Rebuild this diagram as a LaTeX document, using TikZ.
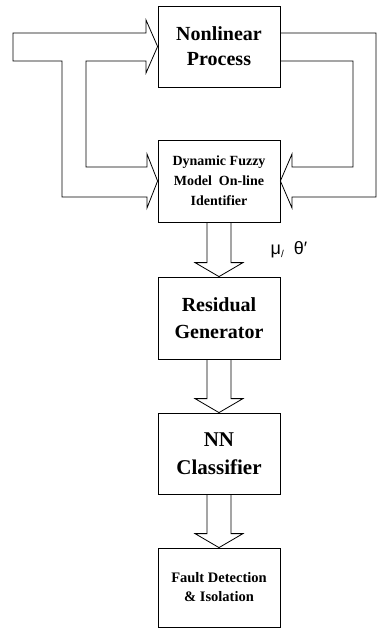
\documentclass[tikz,border=0pt]{standalone}
\usepackage{fontspec}
\setmainfont{Liberation Serif}
\newfontfamily\labelfont{Liberation Sans}
\usetikzlibrary{calc}
\tikzset{
  block/.style={draw, line width=0.8pt, minimum width=122pt, align=center, inner sep=0pt},
  band/.style={draw, line width=0.8pt, line join=miter},
}
\begin{document}
\begin{tikzpicture}[x=1pt,y=-1pt]
      \useasboundingbox (0,0) rectangle (377,629);
      \draw
        (219,46.5) node[block, minimum height=81pt, font=\bfseries\fontsize{20}{25}\selectfont] (proc){Nonlinear\\Process}
        (219,181) node[block, minimum height=82pt, font=\bfseries\fontsize{14}{20}\selectfont] (ident){Dynamic Fuzzy\\Model\ \ On-line\\Identifier}
        (219,318) node[block, minimum height=82pt, font=\bfseries\fontsize{20}{27}\selectfont] (res){Residual\\Generator}
        (219,453.5) node[block, minimum height=81pt, font=\bfseries\fontsize{21}{28}\selectfont] (nn){NN\\Classifier}
        (219,587.5) node[block, minimum height=79pt, font=\bfseries\fontsize{14.5}{19}\selectfont] (fdi){Fault Detection\\\& Isolation}
        (289,250) node[font=\labelfont\fontsize{18}{18}\selectfont] (params){μ\raisebox{-3pt}{\fontsize{10}{10}\selectfont /}\hspace{10pt}θ′};
      \begin{scope}[band]
        % input and feedback to the identifier
        \draw (13,33) -- (146,33) -- (146,20) -- (proc.west) -- (146,73) -- (146,61)
          -- (86,61) -- (86,167) -- (147,167) -- (147,154) -- (ident.west) -- (147,208)
          -- (147,197) -- (62,197) -- (62,61) -- (13,61) -- cycle;
        % process output to the identifier
        \draw (280,33) -- (376,33) -- (376,197) -- (292,197) -- (292,208) -- (ident.east)
          -- (292,154) -- (292,167) -- (353,167) -- (353,61) -- (280,61);
        \foreach \a/\b in {ident/res,res/nn,nn/fdi}
          \draw ($(\a.south)+(-12,0)$) -- ($(\b.north)+(-12,-14)$) -- ($(\b.north)+(-24,-14)$)
            -- (\b.north) -- ($(\b.north)+(24,-14)$) -- ($(\b.north)+(12,-14)$) -- ($(\a.south)+(12,0)$);
      \end{scope}
    \end{tikzpicture}
\end{document}
